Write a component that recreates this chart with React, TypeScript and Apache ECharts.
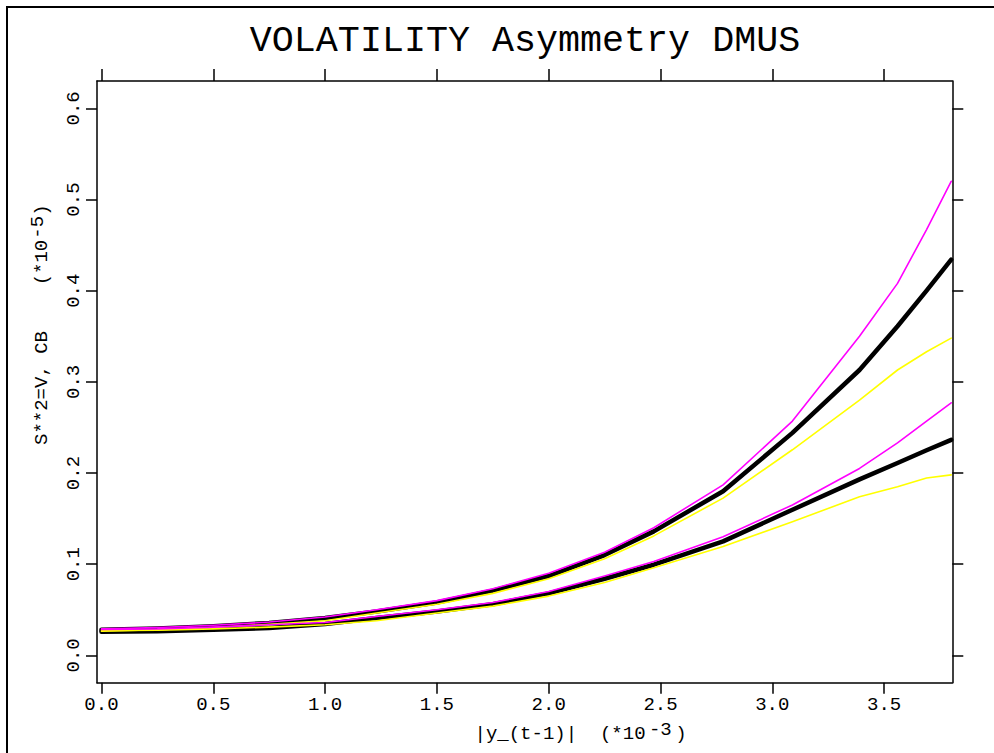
import React, { useEffect, useRef } from "react";
import * as echarts from "echarts";

const TITLE = "VOLATILITY Asymmetry DMUS";
const X_NAME_MAIN = "|y_(t-1)|  (*10";
const X_NAME_EXP = "-3";
const X_NAME_END = ")";
const Y_NAME_MAIN = "S**2=V, CB    (*10";
const Y_NAME_EXP = "-5";
const Y_NAME_END = ")";

const X_TICKS = [0, 0.5, 1.0, 1.5, 2.0, 2.5, 3.0, 3.5];
const Y_TICKS = [0, 0.1, 0.2, 0.3, 0.4, 0.5, 0.6];

const X = [0, 0.25, 0.5, 0.75, 1.0, 1.23, 1.5, 1.75, 2.0, 2.25, 2.47, 2.78, 3.09, 3.39, 3.56, 3.69, 3.8];

const upperMagenta = [0.029, 0.0305, 0.033, 0.0365, 0.042, 0.05, 0.06, 0.073, 0.09, 0.113, 0.14, 0.187, 0.257, 0.35, 0.408, 0.467, 0.52];
const upperBlack = [0.028, 0.0295, 0.032, 0.0355, 0.041, 0.048, 0.058, 0.071, 0.087, 0.11, 0.136, 0.18, 0.244, 0.313, 0.361, 0.4, 0.434];
const upperYellow = [0.0265, 0.028, 0.0305, 0.034, 0.038, 0.0465, 0.056, 0.068, 0.084, 0.106, 0.131, 0.1725, 0.2255, 0.28, 0.313, 0.333, 0.348];
const lowerMagenta = [0.0285, 0.029, 0.031, 0.0335, 0.036, 0.0427, 0.05, 0.058, 0.07, 0.087, 0.103, 0.13, 0.165, 0.205, 0.233, 0.257, 0.277];
const lowerBlack = [0.026, 0.0265, 0.028, 0.03, 0.0345, 0.041, 0.048, 0.056, 0.068, 0.084, 0.0994, 0.125, 0.1597, 0.193, 0.211, 0.225, 0.2364];
const lowerYellow = [0.027, 0.0275, 0.029, 0.031, 0.0335, 0.038, 0.0465, 0.054, 0.065, 0.08, 0.096, 0.1195, 0.1465, 0.174, 0.185, 0.1945, 0.198];

const FONT = "'Liberation Mono', 'DejaVu Sans Mono', monospace";
const FS = 19;
const ADV = FS * 0.6;

function pairs(ys: number[]) {
  return X.map((x, i) => [x, ys[i]]);
}

export default function App() {
  const ref = useRef<HTMLDivElement>(null);
  useEffect(() => {
    if (!ref.current) return;
    const chart = echarts.init(ref.current, null, { renderer: "svg" });
    const axisLine = { show: true, onZero: false, lineStyle: { color: "#000", width: 1.5 } };
    const labelStyle = { color: "#000", fontFamily: FONT, fontSize: FS };
    const line = (name: string, ys: number[], color: string, width: number, z: number) => ({
      name,
      type: "line",
      data: pairs(ys),
      showSymbol: false,
      symbol: "none",
      smooth: false,
      z,
      lineStyle: { color, width, cap: "round", join: "round" },
      emphasis: { disabled: true },
    });
    const textStyle = (text: string, x: number, y: number) => ({
      type: "text",
      x,
      y,
      style: {
        text,
        font: `${FS}px ${FONT}`,
        fill: "#000",
        align: "left",
        verticalAlign: "middle",
      },
    });
    chart.setOption({
      animation: false,
      backgroundColor: "#fff",
      title: {
        text: TITLE,
        left: 520,
        top: 17,
        textAlign: "center",
        textStyle: { fontFamily: FONT, fontSize: 36.7, fontWeight: "normal", color: "#000" },
      },
      grid: { left: 97, top: 81, width: 855.3, height: 601.7, containLabel: false },
      xAxis: [
        {
          type: "value",
          position: "bottom",
          min: -0.02,
          max: 3.805,
          axisLine,
          splitLine: { show: false },
          axisTick: { show: true, inside: false, length: 11, customValues: X_TICKS, lineStyle: { color: "#000", width: 1.5 } },
          axisLabel: { show: true, margin: 13, customValues: X_TICKS, formatter: (v: number) => v.toFixed(1), ...labelStyle },
        },
        {
          type: "value",
          position: "top",
          min: -0.02,
          max: 3.805,
          axisLine,
          splitLine: { show: false },
          axisTick: { show: true, inside: false, length: 12, customValues: X_TICKS, lineStyle: { color: "#000", width: 1.5 } },
          axisLabel: { show: false },
        },
      ],
      yAxis: [
        {
          type: "value",
          position: "left",
          min: -0.03,
          max: 0.63,
          axisLine,
          splitLine: { show: false },
          axisTick: { show: true, inside: false, length: 11, customValues: Y_TICKS, lineStyle: { color: "#000", width: 1.5 } },
          axisLabel: { show: true, rotate: 90, margin: 14, customValues: Y_TICKS, formatter: (v: number) => v.toFixed(1), ...labelStyle },
        },
        {
          type: "value",
          position: "right",
          min: -0.03,
          max: 0.63,
          axisLine,
          splitLine: { show: false },
          axisTick: { show: true, inside: false, length: 11, customValues: Y_TICKS, lineStyle: { color: "#000", width: 1.5 } },
          axisLabel: { show: false },
        },
      ],
      series: [
        line("upper variance", upperBlack, "#000000", 4.5, 2),
        line("lower variance", lowerBlack, "#000000", 4.5, 2),
        line("upper band low", upperYellow, "#FFFF00", 1.6, 3),
        line("lower band low", lowerYellow, "#FFFF00", 1.6, 3),
        line("upper band high", upperMagenta, "#FF00FF", 1.6, 4),
        line("lower band high", lowerMagenta, "#FF00FF", 1.6, 4),
      ],
      graphic: [
        {
          type: "rect",
          shape: { x: 7, y: 7, width: 1010, height: 770 },
          style: { fill: "none", stroke: "#000", lineWidth: 2 },
          silent: true,
        },
        {
          type: "group",
          x: 474.5,
          y: 734,
          children: [
            textStyle(X_NAME_MAIN, 0, 0),
            textStyle(X_NAME_EXP, 15.3 * ADV, -4.5),
            textStyle(X_NAME_END, 17.6 * ADV, 0),
          ],
        },
        {
          type: "group",
          x: 42,
          y: 445,
          rotation: Math.PI / 2,
          children: [
            textStyle(Y_NAME_MAIN, 0, 0),
            textStyle(Y_NAME_EXP, 18.1 * ADV, -4.5),
            textStyle(Y_NAME_END, 20.1 * ADV, 0),
          ],
        },
      ],
    });
    return () => chart.dispose();
  }, []);
  return (
    <div
      ref={ref}
      style={{ position: "fixed", left: 0, top: 0, width: 994, height: 753, background: "#fff" }}
    />
  );
}
